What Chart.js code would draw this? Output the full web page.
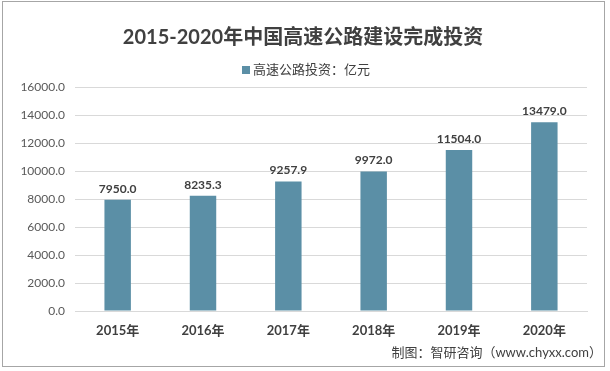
<!DOCTYPE html>
<html>
<head>
<meta charset="utf-8">
<script src="https://cdn.jsdelivr.net/npm/chart.js@4/dist/chart.umd.min.js"></script>
<style>
  html, body { margin: 0; padding: 0; background: #fff; }
  #wrap { width: 610px; height: 371px; }
</style>
</head>
<body>
<div id="wrap"><canvas id="graphique"></canvas></div>
<script>
const annees = ["2015年", "2016年", "2017年", "2018年", "2019年", "2020年"];
const investissement = [7950.0, 8235.3, 9257.9, 9972.0, 11504.0, 13479.0];
const titre = "2015-2020年中国高速公路建设完成投资";
const legende = "高速公路投资：亿元";
const source = "制图：智研咨询（www.chyxx.com）";

const police = "Lato, 'Noto Sans CJK SC', sans-serif";
const couleurBarre = "#5b8fa6";

// texte au-dessus des barres + titre, légende, cadre
const decor = {
  id: "decor",
  afterDatasetsDraw(chart) {
    const ctx = chart.ctx;
    const meta = chart.getDatasetMeta(0);
    ctx.save();
    ctx.fillStyle = "#404040";
    ctx.font = "bold 12px " + police;
    ctx.textAlign = "center";
    ctx.textBaseline = "bottom";
    meta.data.forEach((barre, i) => {
      ctx.fillText(investissement[i].toFixed(1), barre.x, barre.y - 5);
    });
    ctx.restore();
  },
  afterDraw(chart) {
    const ctx = chart.ctx;
    ctx.save();
    // cadre
    ctx.strokeStyle = "#a6a6a6";
    ctx.lineWidth = 1;
    ctx.strokeRect(2.5, 1.5, 602, 365);
    // titre
    ctx.fillStyle = "#404040";
    ctx.font = "bold 20px " + police;
    ctx.textAlign = "center";
    ctx.textBaseline = "middle";
    ctx.fillText(titre, 303, 38);
    // légende
    ctx.font = "13px " + police;
    ctx.textAlign = "left";
    ctx.fillStyle = couleurBarre;
    ctx.fillRect(242, 66, 8, 8);
    ctx.fillStyle = "#404040";
    ctx.fillText(legende, 253, 70);
    // source
    ctx.font = "13px " + police;
    ctx.textAlign = "right";
    ctx.fillText(source, 602, 353);
    ctx.restore();
  }
};

new Chart(document.querySelector("#graphique"), {
  type: "bar",
  data: {
    labels: annees,
    datasets: [{
      label: legende,
      data: investissement,
      backgroundColor: couleurBarre,
      categoryPercentage: 1,
      barPercentage: 0.31
    }]
  },
  options: {
    responsive: true,
    maintainAspectRatio: false,
    animation: false,
    layout: { padding: { top: 87, right: 23, left: 2, bottom: 0 } },
    plugins: {
      legend: { display: false },
      title: { display: false },
      tooltip: { enabled: false }
    },
    scales: {
      x: {
        grid: { display: false },
        border: { color: "#d9d9d9" },
        ticks: { color: "#404040", font: { family: police, size: 13, weight: "bold" }, padding: 4 },
        afterFit(s) { s.height = 60; }
      },
      y: {
        min: 0,
        max: 16000,
        grid: { color: "#d9d9d9", drawTicks: false },
        border: { display: false },
        ticks: {
          stepSize: 2000,
          color: "#595959",
          font: { family: police, size: 12 },
          padding: 10,
          callback: v => v.toFixed(1)
        },
        afterFit(s) { s.width = 73; }
      }
    }
  },
  plugins: [decor]
});
</script>
</body>
</html>
